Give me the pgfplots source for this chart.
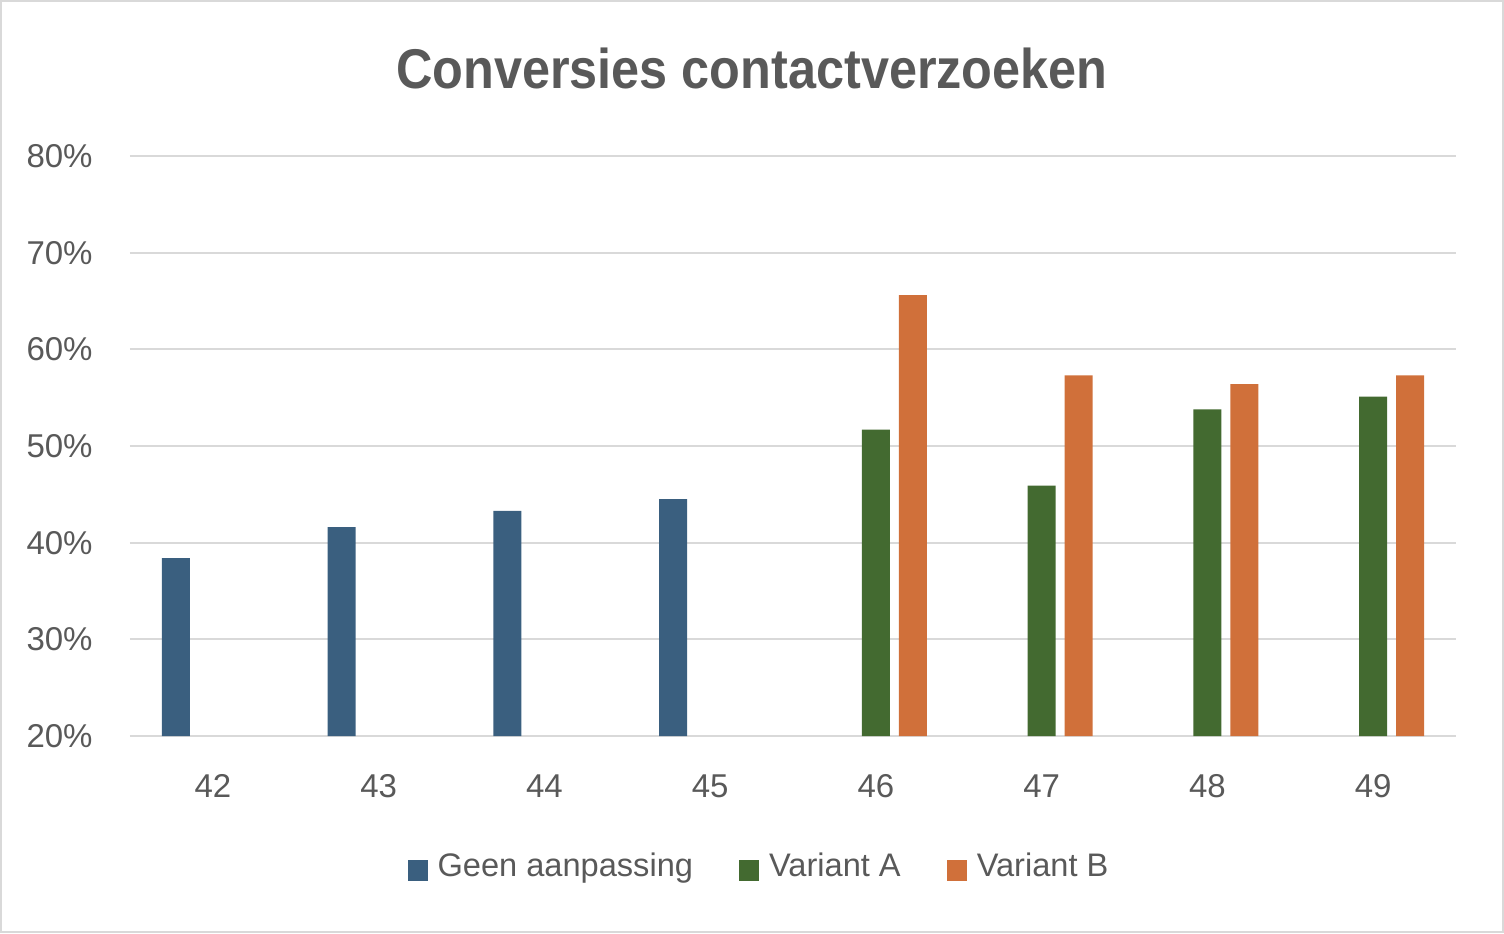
\documentclass[border=0pt]{standalone}
\usepackage{fontspec}
\setmainfont{Liberation Sans}
\usepackage{pgfplots}
\pgfplotsset{compat=1.18}
\definecolor{cblue}{HTML}{3A5F7F}
\definecolor{cgreen}{HTML}{436A30}
\definecolor{corange}{HTML}{D0703A}
\definecolor{ctext}{HTML}{595959}
\definecolor{cgrid}{HTML}{D9D9D9}
\begin{document}
\begin{tikzpicture}
\useasboundingbox (0,0) rectangle (752pt,466.5pt);
\draw[cgrid, line width=1pt] (0.5pt,0.5pt) rectangle (751.5pt,466pt);
\node[anchor=base, text=ctext, inner sep=0pt, font=\fontsize{28}{34}\selectfont\bfseries] at (376pt,422pt) {\scalebox{0.9}[1]{Conversies contactverzoeken}};
\begin{axis}[
  at={(65pt,98.5pt)}, anchor=south west,
  scale only axis, width=663pt, height=290pt,
  ybar, bar width=14pt,
  legend image code/.code={\fill[#1] (0pt,-7pt) rectangle (10pt,3.5pt);},
  xmin=41.5, xmax=49.5, ymin=20, ymax=80,
  xtick={42,43,44,45,46,47,48,49},
  ytick={20,30,40,50,60,70,80},
  yticklabel={\pgfmathprintnumber{\tick}\%},
  /pgf/number format/assume math mode=true,
  axis line style={draw=none},
  major tick length=0pt,
  xtick style={draw=none}, ytick style={draw=none},
  ymajorgrids, grid style={cgrid, line width=1pt},
  ticklabel style={font=\fontsize{16.5}{20}\selectfont, text=ctext, inner sep=0pt},
  yticklabel style={anchor=east, xshift=-18.5pt},
  xticklabel style={anchor=north, yshift=-19pt},
  legend style={at={(0.4736,-0.2259)}, anchor=center, draw=none, fill=none,
    legend columns=-1, font=\fontsize{16.3}{20}\selectfont, text=ctext,
    nodes={inner sep=0pt},
    /tikz/every even column/.append style={column sep=23pt},
    /tikz/every odd column/.append style={column sep=5pt}},
]
\addplot[fill=cblue, draw=none, bar shift=-18.5pt] coordinates {(42,38.4) (43,41.6) (44,43.3) (45,44.5)};
\addlegendentry{Geen aanpassing}
\addplot[fill=cgreen, draw=none, bar shift=0pt] coordinates {(46,51.7) (47,45.9) (48,53.8) (49,55.1)};
\addlegendentry{Variant A}
\addplot[fill=corange, draw=none, bar shift=18.5pt] coordinates {(46,65.6) (47,57.3) (48,56.4) (49,57.3)};
\addlegendentry{Variant B}
\end{axis}
\end{tikzpicture}
\end{document}
